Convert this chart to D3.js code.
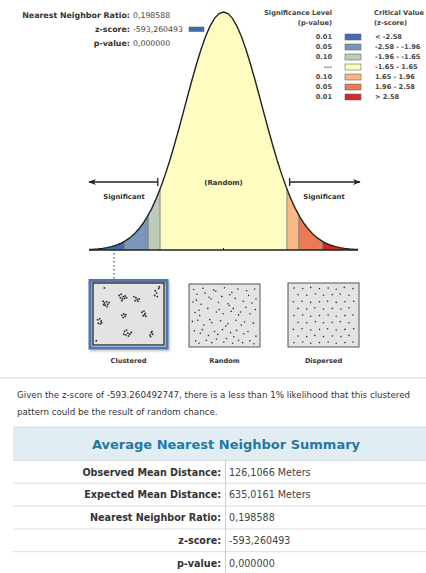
<!DOCTYPE html>
<html><head><meta charset="utf-8">
<script src="https://cdn.jsdelivr.net/npm/d3@7"></script>
<style>
html,body{margin:0;padding:0;background:#fff;}
svg{display:block;font-family:"DejaVu Sans",Verdana,sans-serif;}
</style></head>
<body>
<script>
// ---------- DATA ----------
const zBreaks = [-3.5, -2.58, -1.96, -1.65, 1.65, 1.96, 2.58, 3.5];
const bandColors = ["#3e6db3", "#7b96bb", "#bfcbb9", "#fefcc0", "#f8b886", "#ec7a55", "#d42a26"];
const legendP = ["0.01", "0.05", "0.10", "---", "0.10", "0.05", "0.01"];
const legendZ = ["< -2.58", "-2.58 - -1.96", "-1.96 - -1.65", "-1.65 - 1.65", "1.65 - 1.96", "1.96 - 2.58", "> 2.58"];
const headerLabels = ["Nearest Neighbor Ratio:", "z-score:", "p-value:"];
const headerValues = ["0,198588", "-593,260493", "0,000000"];
const patternNames = ["Clustered", "Random", "Dispersed"];
const tableLabels = ["Observed Mean Distance:", "Expected Mean Distance:", "Nearest Neighbor Ratio:", "z-score:", "p-value:"];
const tableValues = ["126,1066 Meters", "635,0161 Meters", "0,198588", "-593,260493", "0,000000"];
const summaryText = ["Given the z-score of -593.260492747, there is a less than 1% likelihood that this clustered",
                     "pattern could be the result of random chance."];
const clusteredPts = [[12,28],[14,31],[17,29],[19,33],[15,35],[18,37],[21,30],[13,34],
 [36,18],[39,16],[42,20],[45,19],[38,22],[41,24],[44,23],[47,22],[40,27],
 [58,20],[61,22],[63,25],[60,27],[64,28],[66,24],
 [90,10],[92,14],[89,18],[93,20],[95,6],
 [4,60],[7,58],[9,62],[5,66],[8,67],[10,65],
 [40,52],[43,50],[45,54],[42,56],[46,51],
 [70,47],[73,45],[75,49],[72,53],[76,54],[74,51],
 [44,80],[47,78],[49,83],[52,85],[46,86],[50,88],[54,82],[43,85],
 [82,86],[84,82],[86,85],[83,89],[85,80],
 [14,5],[2,96],[96,3]];
const randomPts = [[4,6],[9,14],[18,4],[21,12],[34,7],[37,9],[50,3],[58,15],[61,11],[70,5],[83,8],[86,16],[95,5],
 [3,27],[8,24],[15,31],[27,19],[30,22],[41,28],[46,18],[55,30],[57,33],[66,21],[78,26],[91,29],[97,22],
 [6,45],[12,41],[13,50],[25,38],[38,44],[42,40],[48,47],[60,43],[63,38],[71,49],[74,44],[82,36],[88,47],[96,40],
 [2,60],[10,58],[19,66],[28,57],[31,62],[44,59],[52,68],[55,64],[67,58],[75,66],[80,61],[93,63],
 [5,76],[14,80],[17,74],[26,84],[35,77],[40,82],[47,74],[59,79],[64,86],[68,75],[79,81],[85,77],[97,85],
 [7,93],[12,97],[23,92],[31,96],[38,90],[49,95],[53,89],[62,97],[71,92],[77,96],[88,93],[94,98]];
const dispersedPts = [[6,5],[19,6],[31,4],[44,6],[57,5],[69,7],[81,4],[94,6],
 [12,16],[25,17],[38,15],[50,17],[63,16],[75,15],[88,17],
 [5,28],[18,27],[31,29],[44,28],[56,27],[69,29],[82,28],[95,27],
 [12,39],[25,40],[37,38],[50,40],[63,39],[76,40],[88,38],
 [6,51],[19,50],[31,52],[44,51],[57,50],[69,52],[82,51],[94,50],
 [12,62],[25,63],[38,61],[50,63],[63,62],[75,61],[88,63],
 [5,74],[18,73],[31,75],[44,74],[56,73],[69,75],[82,74],[95,73],
 [12,85],[25,86],[37,84],[50,86],[63,85],[76,86],[88,84],
 [6,96],[19,95],[31,97],[44,96],[57,95],[69,97],[82,96],[94,95]];

// ---------- SETUP ----------
const W = 426, H = 573;
const svg = d3.select("body").append("svg").attr("width", W).attr("height", H);
svg.append("rect").attr("width", W).attr("height", H).attr("fill", "#fff");

const pdf = z => Math.exp(-z * z / 2) / Math.sqrt(2 * Math.PI);
const x = d3.scaleLinear().domain([-3.5, 3.5]).range([89, 358]);
const y = d3.scaleLinear().domain([0, pdf(0)]).range([250, 12]);

const sample = (a, b) => d3.range(0, 61).map(i => a + (b - a) * i / 60);
const area = d3.area().x(d => x(d)).y0(y(0)).y1(d => y(pdf(d))).curve(d3.curveLinear);
const line = d3.line().x(d => x(d)).y(d => y(pdf(d)));

// bands
for (let i = 0; i < bandColors.length; i++) {
  svg.append("path").datum(sample(zBreaks[i], zBreaks[i + 1]))
    .attr("d", area).attr("fill", bandColors[i]);
}
// band separators
zBreaks.slice(1, -1).forEach(z => {
  svg.append("line").attr("x1", x(z)).attr("x2", x(z)).attr("y1", y(0)).attr("y2", y(pdf(z)))
    .attr("stroke", "#6f6f6f").attr("stroke-width", 0.8);
});
// outline
svg.append("path").datum(sample(-3.5, 3.5)).attr("d", line)
  .attr("fill", "none").attr("stroke", "#222").attr("stroke-width", 1.4);
svg.append("line").attr("x1", x(-3.5)).attr("x2", x(3.5)).attr("y1", y(0)).attr("y2", y(0))
  .attr("stroke", "#222").attr("stroke-width", 1.4);
svg.append("line").attr("x1", x(0)).attr("x2", x(0)).attr("y1", y(0)).attr("y2", y(0) - 2)
  .attr("stroke", "#222").attr("stroke-width", 1);

// arrows
const defs = svg.append("defs");
defs.append("marker").attr("id", "ah").attr("viewBox", "0 0 10 10").attr("refX", 9).attr("refY", 5)
  .attr("markerWidth", 6).attr("markerHeight", 6).attr("orient", "auto-start-reverse")
  .append("path").attr("d", "M0,1 L10,5 L0,9 L3,5 Z").attr("fill", "#222");
const ay = 182;
svg.append("line").attr("x1", x(-1.71)).attr("x2", 89).attr("y1", ay).attr("y2", ay)
  .attr("stroke", "#222").attr("stroke-width", 1.3).attr("marker-end", "url(#ah)");
svg.append("line").attr("x1", x(-1.71)).attr("x2", x(-1.71)).attr("y1", ay - 4).attr("y2", ay + 4)
  .attr("stroke", "#222").attr("stroke-width", 1.3);
svg.append("line").attr("x1", x(1.72)).attr("x2", 360).attr("y1", ay).attr("y2", ay)
  .attr("stroke", "#222").attr("stroke-width", 1.3).attr("marker-end", "url(#ah)");
svg.append("line").attr("x1", x(1.72)).attr("x2", x(1.72)).attr("y1", ay - 4).attr("y2", ay + 4)
  .attr("stroke", "#222").attr("stroke-width", 1.3);

svg.append("text").attr("x", x(0)).attr("y", 185).attr("text-anchor", "middle")
  .attr("font-size", 7).attr("font-weight", "bold").attr("fill", "#333").text("(Random)");
svg.append("text").attr("x", 124).attr("y", 199).attr("text-anchor", "middle")
  .attr("font-size", 6.9).attr("font-weight", "bold").attr("fill", "#333").text("Significant");
svg.append("text").attr("x", 324).attr("y", 199).attr("text-anchor", "middle")
  .attr("font-size", 6.9).attr("font-weight", "bold").attr("fill", "#333").text("Significant");

// dotted connector
svg.append("line").attr("x1", 114).attr("x2", 114).attr("y1", 253).attr("y2", 280)
  .attr("stroke", "#6c8fc0").attr("stroke-width", 1.8).attr("stroke-dasharray", "1.6,2.4");

// header block
const hg = svg.append("g");
headerLabels.forEach((t, i) => {
  hg.append("text").attr("x", 130).attr("y", 17.5 + i * 14).attr("text-anchor", "end")
    .attr("font-size", 7.9).attr("font-weight", "bold").attr("fill", "#333").text(t);
  hg.append("text").attr("x", 133).attr("y", 17.5 + i * 14)
    .attr("font-size", 7.8).attr("fill", "#444").text(headerValues[i]);
});
hg.append("rect").attr("x", 189).attr("y", 27).attr("width", 15).attr("height", 4.5)
  .attr("fill", bandColors[0]).attr("stroke", "#555").attr("stroke-width", 0.5);

// legend
const lg = svg.append("g");
lg.append("text").attr("x", 332).attr("y", 15).attr("text-anchor", "end").attr("font-size", 6.7)
  .attr("font-weight", "bold").attr("fill", "#444").text("Significance Level");
lg.append("text").attr("x", 332).attr("y", 25).attr("text-anchor", "end").attr("font-size", 6.7)
  .attr("font-weight", "bold").attr("fill", "#444").text("(p-value)");
lg.append("text").attr("x", 374).attr("y", 15).attr("font-size", 6.7)
  .attr("font-weight", "bold").attr("fill", "#444").text("Critical Value");
lg.append("text").attr("x", 374).attr("y", 25).attr("font-size", 6.7)
  .attr("font-weight", "bold").attr("fill", "#444").text("(z-score)");
legendP.forEach((p, i) => {
  const yy = 37 + i * 10;
  lg.append("text").attr("x", 332).attr("y", yy + 2.3).attr("text-anchor", "end").attr("font-size", 6.6)
    .attr("font-weight", "bold").attr("fill", "#444").text(p);
  lg.append("rect").attr("x", 345).attr("y", yy - 3).attr("width", 16).attr("height", 6)
    .attr("fill", bandColors[i]).attr("stroke", "#666").attr("stroke-width", 0.6);
  lg.append("text").attr("x", 375).attr("y", yy + 2.3).attr("font-size", 6.6)
    .attr("font-weight", "bold").attr("fill", "#444").text(legendZ[i]);
});

// pattern boxes
const boxes = [
  {x0: 93, y0: 283, w: 71, h: 62, pts: clusteredPts},
  {x0: 189, y0: 284, w: 71, h: 63, pts: randomPts},
  {x0: 288, y0: 283, w: 71, h: 64, pts: dispersedPts}
];
defs.append("filter").attr("id", "sh").attr("x", "-20%").attr("y", "-20%").attr("width", "140%").attr("height", "140%")
  .append("feDropShadow").attr("dx", 1).attr("dy", 1.5).attr("stdDeviation", 1.2).attr("flood-color", "#888").attr("flood-opacity", 0.6);
svg.append("rect").attr("x", 90).attr("y", 280.5).attr("width", 77).attr("height", 67.5)
  .attr("fill", "none").attr("stroke", "#4a78b6").attr("stroke-width", 3).attr("filter", "url(#sh)");
boxes.forEach((b, k) => {
  const bx = d3.scaleLinear().domain([0, 100]).range([b.x0 + 2, b.x0 + b.w - 2]);
  const by = d3.scaleLinear().domain([0, 100]).range([b.y0 + 2, b.y0 + b.h - 2]);
  svg.append("rect").attr("x", b.x0).attr("y", b.y0).attr("width", b.w).attr("height", b.h)
    .attr("fill", "#e3e3e3").attr("stroke", k === 0 ? "#222" : "#555").attr("stroke-width", k === 0 ? 1.3 : 1);
  svg.append("g").selectAll("circle").data(b.pts).join("circle")
    .attr("cx", d => bx(d[0])).attr("cy", d => by(d[1])).attr("r", k === 0 ? 0.95 : 0.8).attr("fill", "#333");
  svg.append("text").attr("x", b.x0 + b.w / 2).attr("y", 363).attr("text-anchor", "middle")
    .attr("font-size", 6.6).attr("font-weight", "bold").attr("fill", "#333").text(patternNames[k]);
});

// separator + text
svg.append("line").attr("x1", 0).attr("x2", W).attr("y1", 378).attr("y2", 378)
  .attr("stroke", "#e6e6e6").attr("stroke-width", 1.5);
summaryText.forEach((t, i) => {
  svg.append("text").attr("x", 17).attr("y", 398 + i * 16.5).attr("font-size", 8.7)
    .attr("fill", "#333").text(t);
});

// summary table
svg.append("rect").attr("x", 13).attr("y", 427).attr("width", W - 13).attr("height", 33)
  .attr("fill", "#e2edf3");
svg.append("line").attr("x1", 13).attr("x2", W).attr("y1", 427).attr("y2", 427)
  .attr("stroke", "#d8dde0").attr("stroke-width", 1);
svg.append("text").attr("x", 226).attr("y", 449).attr("text-anchor", "middle")
  .attr("font-size", 13).attr("font-weight", "bold").attr("fill", "#1f7aa3")
  .text("Average Nearest Neighbor Summary");
const rowY = d3.scaleBand().domain(d3.range(tableLabels.length)).range([460, 574]);
tableLabels.forEach((t, i) => {
  const y0 = rowY(i);
  svg.append("line").attr("x1", 13).attr("x2", W).attr("y1", y0 + 0.5).attr("y2", y0 + 0.5)
    .attr("stroke", "#dcdcdc").attr("stroke-width", 1);
  svg.append("text").attr("x", 221).attr("y", y0 + 15.5).attr("text-anchor", "end")
    .attr("font-size", 9.6).attr("font-weight", "bold").attr("fill", "#333").text(t);
  svg.append("text").attr("x", 229).attr("y", y0 + 15.5)
    .attr("font-size", 9.6).attr("fill", "#444").text(tableValues[i]);
});
svg.append("line").attr("x1", 225.5).attr("x2", 225.5).attr("y1", 460).attr("y2", H)
  .attr("stroke", "#cfcfcf").attr("stroke-width", 1);
</script>
</body></html>
